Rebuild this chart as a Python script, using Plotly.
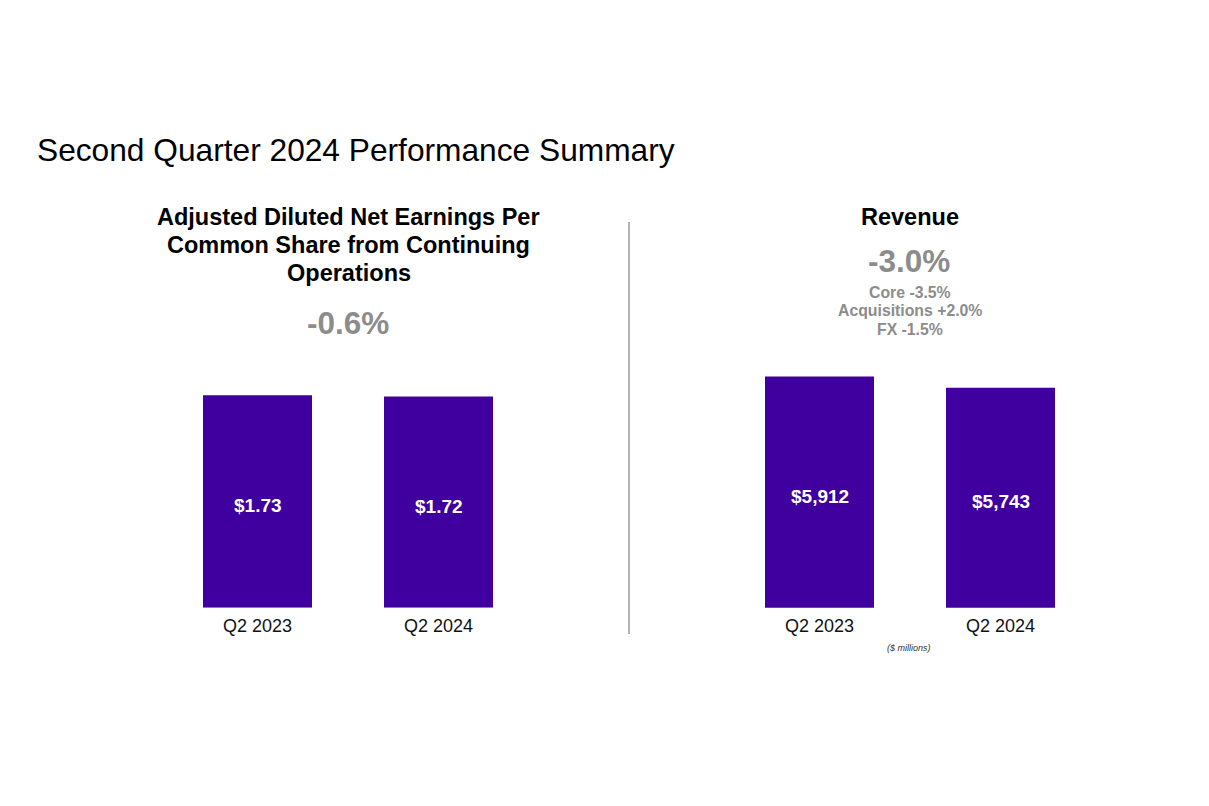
import plotly.graph_objects as go

W, H = 1209, 806
OFF = 8  # page body margin offset

# ---- data ----
periods = ["Q2 2023", "Q2 2024"]
eps_values = [1.73, 1.72]
eps_labels = ["$1.73", "$1.72"]
revenue_values = [5912, 5743]
revenue_labels = ["$5,912", "$5,743"]

page_title = "Second Quarter 2024 Performance Summary"
eps_title_lines = ["Adjusted Diluted Net Earnings Per", "Common Share from Continuing", "Operations"]
eps_change = "-0.6%"
rev_title = "Revenue"
rev_change = "-3.0%"
rev_detail = ["Core -3.5%", "Acquisitions +2.0%", "FX -1.5%"]
unit_note = "($ millions)"

BAR = "#4000A0"
GRAY = "#8c8c8c"
FONT = "Liberation Sans, Arial, sans-serif"


def px(x):
    return (x - OFF) / W


def py(y):
    return 1 - (y - OFF) / H


fig = go.Figure()

fig.add_trace(go.Bar(
    x=periods, y=eps_values, textposition="none",
    marker=dict(color=BAR, line=dict(width=0)),
    xaxis="x", yaxis="y", hoverinfo="skip",
))
fig.add_trace(go.Bar(
    x=periods, y=revenue_values, textposition="none",
    marker=dict(color=BAR, line=dict(width=0)),
    xaxis="x2", yaxis="y2", hoverinfo="skip",
))

y_bottom = 607.7
y_top = 340
ydom = [py(y_bottom), py(y_top)]
plot_h = y_bottom - y_top
eps_scale = 212.5 / 1.73
rev_base = 2460
rev_scale = 231.3 / (5912 - rev_base)

axis_common = dict(showgrid=False, zeroline=False, showline=False,
                   ticks="outside", ticklen=2, tickcolor="rgba(0,0,0,0)",
                   tickfont=dict(size=18, color="#111111", family=FONT),
                   fixedrange=True)
yaxis_common = dict(showgrid=False, zeroline=False, showline=False,
                    showticklabels=False, ticks="", fixedrange=True)

fig.update_layout(
    width=W, height=H,
    margin=dict(l=0, r=0, t=0, b=0),
    paper_bgcolor="white", plot_bgcolor="white",
    showlegend=False,
    bargap=1 - 109 / 181,
    font=dict(family=FONT),
    xaxis=dict(domain=[px(167), px(529)], anchor="y", **axis_common),
    yaxis=dict(domain=ydom, range=[0, plot_h / eps_scale], anchor="x", **yaxis_common),
    xaxis2=dict(domain=[px(729), px(1091)], anchor="y2", **axis_common),
    yaxis2=dict(domain=ydom, range=[rev_base, rev_base + plot_h / rev_scale], anchor="x2", **yaxis_common),
)

ann = []


def paper_text(text, x, y, size, color, xanchor="center", bold=False, italic=False):
    if bold:
        text = "<b>" + text + "</b>"
    if italic:
        text = "<i>" + text + "</i>"
    ann.append(dict(text=text, x=px(x), y=py(y), xref="paper", yref="paper",
                    xanchor=xanchor, yanchor="middle", showarrow=False,
                    font=dict(size=size, color=color, family=FONT)))


paper_text(page_title, 35, 150, 31.7, "#000000", xanchor="left")
for i, line in enumerate(eps_title_lines):
    paper_text(line, 348.5, 217 + 28 * i, 23.5, "#000000", bold=True)
paper_text(eps_change, 348, 323, 31.5, GRAY, bold=True)
paper_text(rev_title, 910, 217, 23.5, "#000000", bold=True)
paper_text(rev_change, 909, 261, 31.5, GRAY, bold=True)
for i, line in enumerate(rev_detail):
    paper_text(line, 910, 292 + 18.7 * i, 15.8, GRAY, bold=True)
paper_text(unit_note, 909, 648, 9, "#333333", italic=True)

# value labels centred in the visible bar
for p, v, lab in zip(periods, eps_values, eps_labels):
    ann.append(dict(text="<b>" + lab + "</b>", x=p, y=v / 2, xref="x", yref="y",
                    showarrow=False, yshift=-4,
                    font=dict(size=19, color="white", family=FONT)))
for p, v, lab in zip(periods, revenue_values, revenue_labels):
    ann.append(dict(text="<b>" + lab + "</b>", x=p, y=(v + rev_base) / 2, xref="x2", yref="y2",
                    showarrow=False, yshift=-4,
                    font=dict(size=19, color="white", family=FONT)))

fig.update_layout(annotations=ann)

fig.add_shape(type="line", xref="paper", yref="paper", x0=px(629), x1=px(629),
              y0=py(222), y1=py(634), line=dict(color="#9a9a9a", width=1.5))

fig.write_html("out.html")
